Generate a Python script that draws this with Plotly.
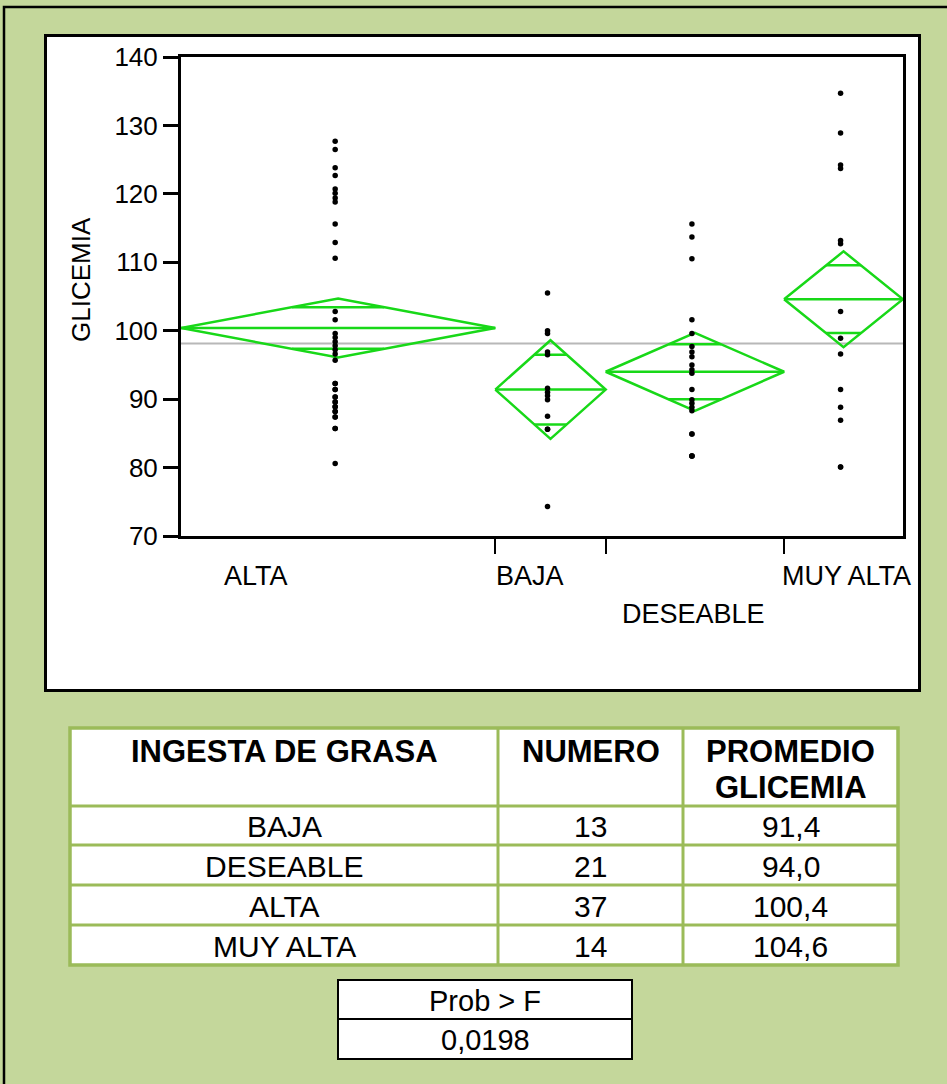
import plotly.graph_objects as go

# ---- data -------------------------------------------------------------
categories = ["ALTA", "BAJA", "DESEABLE", "MUY ALTA"]
counts = [37, 13, 21, 14]
means = [100.4, 91.4, 94.0, 104.6]
ci_low = [96.1, 84.2, 88.3, 97.6]
ci_high = [104.7, 98.6, 99.7, 111.6]

glicemia_alta = [127.7, 126.5, 123.8, 122.7, 120.7, 120.1, 119.4, 118.8, 115.6, 112.9,
                 110.6, 102.8, 101.6, 99.6, 99.0, 98.4, 97.8, 97.2, 96.6, 95.7,
                 92.3, 92.3, 91.4, 91.4, 90.3, 90.3, 89.6, 89.6, 88.9, 88.9,
                 88.2, 88.2, 87.4, 87.4, 85.7, 85.7, 80.6]
glicemia_baja = [105.5, 100.0, 99.6, 96.9, 96.5, 91.6, 91.0, 90.5, 89.9, 87.5,
                 85.6, 85.6, 74.3]
glicemia_deseable = [115.6, 113.7, 110.5, 101.6, 99.6, 97.7, 96.9, 96.2, 95.0, 94.3,
                     93.8, 91.4, 89.9, 89.4, 88.8, 88.3, 84.9, 84.9, 81.7, 81.7, 81.7]
glicemia_muy_alta = [134.7, 128.9, 124.2, 123.7, 113.2, 112.7, 102.8, 98.9, 96.6, 91.4,
                     88.8, 86.9, 80.1, 80.1]
group_values = [glicemia_alta, glicemia_baja, glicemia_deseable, glicemia_muy_alta]

y_ticks = [70, 80, 90, 100, 110, 120, 130, 140]

table_header = [["INGESTA DE GRASA"], ["NUMERO"], ["PROMEDIO", "GLICEMIA"]]
table_order = ["BAJA", "DESEABLE", "ALTA", "MUY ALTA"]
prob_label = "Prob > F"
prob_value = 0.0198

# ---- page geometry (pixels) ------------------------------------------
W, H = 947, 1084
FONT = "Liberation Sans, Arial, sans-serif"
GREEN_PAGE = "#C4D79B"
GREEN_RULE = "#9BBB59"
DIAMOND = "#18D818"


def px(x):
    return x / W


def py(y):
    return 1 - y / H


def fmt(v, nd):
    return f"{v:.{nd}f}".replace(".", ",")


total = sum(counts)
starts = [sum(counts[:i]) for i in range(len(counts))]
ends = [s + n for s, n in zip(starts, counts)]
centers = [(s + e) / 2 for s, e in zip(starts, ends)]
grand_mean = sum(m * n for m, n in zip(means, counts)) / total

fig = go.Figure()

# grand mean reference line
fig.add_trace(go.Scatter(x=[0, total], y=[grand_mean, grand_mean], mode="lines",
                         line=dict(color="#B8B8B8", width=2.2), hoverinfo="skip"))

# means diamonds with overlap marks
r = 2 ** -0.5
for s, e, c, m, lo, hi in zip(starts, ends, centers, means, ci_low, ci_high):
    xs = [s, c, e, c, s, None, s, e]
    ys = [m, hi, m, lo, m, None, m, m]
    for edge in (hi, lo):
        yo = m + (edge - m) * r
        half = (e - s) / 2 * (1 - r)
        xs += [None, c - half, c + half]
        ys += [None, yo, yo]
    fig.add_trace(go.Scatter(x=xs, y=ys, mode="lines",
                             line=dict(color=DIAMOND, width=2.5), hoverinfo="skip"))

# individual observations
for c, vals in zip(centers, group_values):
    fig.add_trace(go.Scatter(x=[c - 0.35] * len(vals), y=vals, mode="markers",
                             marker=dict(color="black", size=5.5)))

shapes = []
annotations = []

# outer frame and white chart panel
shapes.append(dict(type="rect", xref="paper", yref="paper", layer="below",
                   x0=px(4), x1=px(1000), y0=py(7), y1=py(1200),
                   line=dict(color="black", width=2.5)))
shapes.append(dict(type="rect", xref="paper", yref="paper", layer="below",
                   x0=px(45.5), x1=px(919.5), y0=py(35.5), y1=py(690.5),
                   fillcolor="white", line=dict(color="black", width=3)))

# category labels
label_pos = [(222, 576), (494, 576), (620, 614), (780, 576)]
for cat, (lx, ly) in zip(categories, label_pos):
    annotations.append(dict(text=cat, xref="paper", yref="paper", x=px(lx), y=py(ly),
                            xanchor="left", yanchor="middle", showarrow=False,
                            font=dict(family=FONT, size=27, color="black")))

annotations.append(dict(text="GLICEMIA", xref="paper", yref="paper", x=px(81), y=py(280),
                        textangle=-90, xanchor="center", yanchor="middle", showarrow=False,
                        font=dict(family=FONT, size=26, color="black")))

# summary table
tx = [70, 498, 683, 898]
ty = [728, 806, 845, 885, 925, 965]
shapes.append(dict(type="rect", xref="paper", yref="paper",
                   x0=px(tx[0]), x1=px(tx[-1]), y0=py(ty[0]), y1=py(ty[-1]),
                   fillcolor="white", line=dict(color=GREEN_RULE, width=3.5)))
for xv in tx[1:-1]:
    shapes.append(dict(type="line", xref="paper", yref="paper",
                       x0=px(xv), x1=px(xv), y0=py(ty[0]), y1=py(ty[-1]),
                       line=dict(color=GREEN_RULE, width=3)))
for yv in ty[1:-1]:
    shapes.append(dict(type="line", xref="paper", yref="paper",
                       x0=px(tx[0]), x1=px(tx[-1]), y0=py(yv), y1=py(yv),
                       line=dict(color=GREEN_RULE, width=3)))

col_centers = [(a + b) / 2 for a, b in zip(tx[:-1], tx[1:])]
header_lines_y = [751, 787]
for cx, lines in zip(col_centers, table_header):
    for line_txt, ly in zip(lines, header_lines_y):
        annotations.append(dict(text=f"<b>{line_txt}</b>", xref="paper", yref="paper",
                                x=px(cx), y=py(ly), xanchor="center", yanchor="middle",
                                showarrow=False,
                                font=dict(family=FONT, size=31, color="black")))

for i, name in enumerate(table_order):
    k = categories.index(name)
    row_vals = [name, str(counts[k]), fmt(means[k], 1)]
    cy = (ty[i + 1] + ty[i + 2]) / 2
    for cx, txt in zip(col_centers, row_vals):
        annotations.append(dict(text=txt, xref="paper", yref="paper",
                                x=px(cx), y=py(cy + 1), xanchor="center", yanchor="middle",
                                showarrow=False,
                                font=dict(family=FONT, size=30, color="black")))

# probability box
bx0, bx1, by0, bym, by1 = 338, 632, 980, 1019, 1059
shapes.append(dict(type="rect", xref="paper", yref="paper",
                   x0=px(bx0), x1=px(bx1), y0=py(by0), y1=py(by1),
                   fillcolor="white", line=dict(color="black", width=2)))
shapes.append(dict(type="line", xref="paper", yref="paper",
                   x0=px(bx0), x1=px(bx1), y0=py(bym), y1=py(bym),
                   line=dict(color="black", width=2)))
for txt, cy in ((prob_label, (by0 + bym) / 2), (fmt(prob_value, 4), (bym + by1) / 2)):
    annotations.append(dict(text=txt, xref="paper", yref="paper",
                            x=px((bx0 + bx1) / 2), y=py(cy + 1), xanchor="center",
                            yanchor="middle", showarrow=False,
                            font=dict(family=FONT, size=29, color="black")))

fig.update_layout(
    width=W, height=H,
    margin=dict(l=0, r=0, t=0, b=0, autoexpand=False),
    paper_bgcolor=GREEN_PAGE,
    plot_bgcolor="white",
    showlegend=False,
    shapes=shapes,
    annotations=annotations,
    xaxis=dict(domain=[px(181), px(903)], range=[0, total], automargin=False,
               showgrid=False, zeroline=False,
               showline=True, linecolor="black", linewidth=3, mirror=True,
               ticks="outside", tickvals=ends[:-1], ticklen=15, tickwidth=2,
               tickcolor="black", showticklabels=False),
    yaxis=dict(domain=[py(536), py(57)], range=[70, 140], automargin=False,
               showgrid=False, zeroline=False,
               showline=True, linecolor="black", linewidth=3, mirror=True,
               ticks="outside", tickvals=y_ticks, ticklen=15, tickwidth=3,
               tickcolor="black",
               tickfont=dict(family=FONT, size=26, color="black")),
)

fig.write_html("out.html")
